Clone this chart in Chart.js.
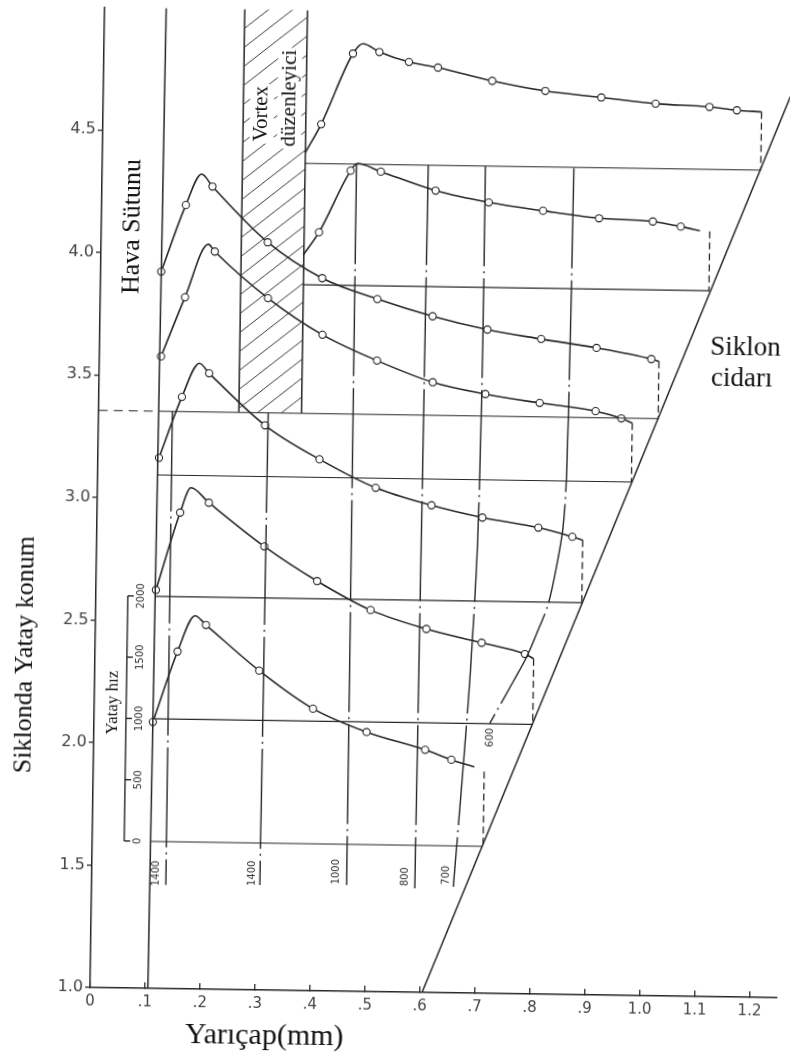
<!DOCTYPE html>
<html>
<head>
<meta charset="utf-8">
<script src="https://cdn.jsdelivr.net/npm/chart.js@4.4.1/dist/chart.umd.min.js"></script>
<style>
html, body { margin: 0; padding: 0; background: #fff; overflow: hidden; }
#wrap { width: 790px; height: 1055px; transform: rotate(0.85deg); transform-origin: 395px 527px; }
</style>
</head>
<body>
<div id="wrap"><canvas id="myChart" width="790" height="1055"></canvas></div>
<script>
// axis ticks
var xTicks = [0, 0.1, 0.2, 0.3, 0.4, 0.5, 0.6, 0.7, 0.8, 0.9, 1.0, 1.1, 1.2];
var xLabels = ['0', '.1', '.2', '.3', '.4', '.5', '.6', '.7', '.8', '.9', '1.0', '1.1', '1.2'];
var yTicks = [1.0, 1.5, 2.0, 2.5, 3.0, 3.5, 4.0, 4.5];

// particle paths: x = radius (mm), y = position, m = 1 where a measured point is drawn
var c1x = [0.107, 0.150, 0.181, 0.201, 0.299, 0.398, 0.496, 0.603, 0.651, 0.693];
var c1y = [2.087, 2.376, 2.523, 2.486, 2.303, 2.151, 2.059, 1.990, 1.951, 1.923];
var c1m = [1, 1, 0, 1, 1, 1, 1, 1, 1, 0];

var c2x = [0.109, 0.151, 0.170, 0.203, 0.305, 0.402, 0.500, 0.602, 0.703, 0.782, 0.798];
var c2y = [2.626, 2.943, 3.045, 2.985, 2.810, 2.672, 2.557, 2.483, 2.430, 2.387, 2.368];
var c2m = [1, 1, 0, 1, 1, 1, 1, 1, 1, 1, 0];

var c3x = [0.111, 0.151, 0.182, 0.200, 0.303, 0.403, 0.506, 0.608, 0.701, 0.803, 0.865, 0.884];
var c3y = [3.165, 3.415, 3.553, 3.513, 3.304, 3.169, 3.056, 2.988, 2.941, 2.903, 2.868, 2.855];
var c3m = [1, 1, 0, 1, 1, 1, 1, 1, 1, 1, 1, 0];

var c4x = [0.112, 0.154, 0.195, 0.207, 0.305, 0.405, 0.505, 0.607, 0.703, 0.802, 0.904, 0.951, 0.971];
var c4y = [3.579, 3.822, 4.039, 4.010, 3.823, 3.677, 3.575, 3.490, 3.445, 3.412, 3.382, 3.354, 3.336];
var c4m = [1, 1, 0, 1, 1, 1, 1, 1, 1, 1, 1, 1, 0];

var c5x = [0.110, 0.153, 0.181, 0.201, 0.303, 0.403, 0.504, 0.605, 0.705, 0.803, 0.904, 1.004, 1.018];
var c5y = [3.925, 4.198, 4.325, 4.275, 4.051, 3.908, 3.826, 3.759, 3.708, 3.673, 3.640, 3.598, 3.589];
var c5m = [1, 1, 0, 1, 1, 1, 1, 1, 1, 1, 1, 1, 0];

var c6x = [0.368, 0.396, 0.452, 0.464, 0.507, 0.607, 0.704, 0.803, 0.905, 1.003, 1.054, 1.089];
var c6y = [4.002, 4.095, 4.348, 4.378, 4.346, 4.272, 4.227, 4.196, 4.169, 4.159, 4.140, 4.124];
var c6m = [0, 1, 1, 0, 1, 1, 1, 1, 1, 1, 1, 0];

var c7x = [0.369, 0.397, 0.453, 0.471, 0.501, 0.555, 0.608, 0.707, 0.804, 0.906, 1.005, 1.103, 1.153, 1.198];
var c7y = [4.419, 4.536, 4.826, 4.867, 4.834, 4.795, 4.774, 4.723, 4.685, 4.662, 4.640, 4.630, 4.618, 4.613];
var c7m = [0, 1, 1, 0, 1, 1, 1, 1, 1, 1, 1, 1, 1, 0];

// base lines (zero speed) and the dashed drops to the wall
var baseY  = [1.6, 2.1, 2.6, 3.095, 3.355, 3.88, 4.375];
var baseX0 = [0.106, 0.107, 0.108, 0.109, 0.110, 0.369, 0.369];
var baseX1 = [0.710, 0.798, 0.886, 0.973, 1.018, 1.108, 1.198];
var dropX   = [0.711, 0.798, 0.884, 0.971, 1.018, 1.107, 1.198];
var dropTop = [1.905, 2.368, 2.855, 3.336, 3.589, 4.122, 4.613];

// dash-dot lines of equal value
var isoText = ['1400', '1400', '1000', '800', '700', '600'];
var iso1x = [0.134, 0.135], iso1y = [3.355, 1.423];
var iso2x = [0.3085, 0.306], iso2y = [3.355, 1.428];
var iso3x = [0.4625, 0.4638], iso3y = [4.375, 1.434];
var iso4x = [0.593, 0.588], iso4y = [4.375, 1.424];
var iso5x = [0.697, 0.697, 0.693, 0.683, 0.670, 0.658];
var iso5y = [4.375, 3.66, 2.85, 2.30, 1.83, 1.433];
var iso6x = [0.858, 0.856, 0.853, 0.848, 0.837, 0.823, 0.8025, 0.785, 0.7625, 0.720];
var iso6y = [4.372, 3.666, 3.122, 2.907, 2.744, 2.592, 2.469, 2.374, 2.278, 2.102];

// cyclone wall, air column, vortex finder
var wallX = [0.604, 1.25], wallY = [1.0, 4.677];
var havaX = [0.105, 0.112], havaY = [1.0, 5.0];
var vortexX = [0.255, 0.369], vortexY = [3.355, 5.0];
var leftDashX = [0, 0.110], leftDashY = [3.355, 3.355];

// small speed scale
var hizX = 0.058;
var hizTicks = [0, 500, 1000, 1500, 2000];

var INK = '#262626';
var SERIF = '"Liberation Serif", "Times New Roman", serif';
var SANS = '"DejaVu Sans", sans-serif';

function pts(xs, ys) {
    return xs.map(function (v, i) { return {x: v, y: ys[i]}; });
}
function curve(xs, ys, ms) {
    return {
        data: pts(xs, ys), borderColor: INK, borderWidth: 1.6,
        cubicInterpolationMode: 'monotone',
        pointRadius: function (c) { return ms[c.dataIndex] ? 3.6 : 0; },
        pointBackgroundColor: '#fff', pointBorderColor: INK, pointBorderWidth: 1.1
    };
}
function seg(xs, ys, w, dash, tension) {
    return {
        data: pts(xs, ys), borderColor: INK, borderWidth: w,
        borderDash: dash || [], pointRadius: 0, tension: tension || 0
    };
}

var datasets = [];
for (var i = 0; i < baseY.length; i++) {
    datasets.push(seg([baseX0[i], baseX1[i]], [baseY[i], baseY[i]], 1.1));
    datasets.push(seg([dropX[i], dropX[i]], [dropTop[i], baseY[i]], 1.3, [7, 4]));
}
datasets.push(seg(leftDashX, leftDashY, 1.1, [9, 6]));
datasets.push(seg(havaX, havaY, 1.5));
datasets.push(seg([vortexX[0], vortexX[0]], vortexY, 1.5));
datasets.push(seg([vortexX[1], vortexX[1]], vortexY, 1.5));
datasets.push(seg(wallX, wallY, 1.5));
var dashDot = [100, 5, 2, 5];
datasets.push(seg(iso1x, iso1y, 1.4, dashDot));
datasets.push(seg(iso2x, iso2y, 1.4, dashDot));
datasets.push(seg(iso3x, iso3y, 1.4, dashDot));
datasets.push(seg(iso4x, iso4y, 1.4, dashDot));
datasets.push(seg(iso5x, iso5y, 1.4, dashDot, 0.3));
datasets.push(seg(iso6x, iso6y, 1.4, dashDot, 0.3));
datasets.push(curve(c1x, c1y, c1m));
datasets.push(curve(c2x, c2y, c2m));
datasets.push(curve(c3x, c3y, c3m));
datasets.push(curve(c4x, c4y, c4m));
datasets.push(curve(c5x, c5y, c5m));
datasets.push(curve(c6x, c6y, c6m));
datasets.push(curve(c7x, c7y, c7m));

// text placed in data units
var isoPos = [[0.118, 1.470], [0.291, 1.476], [0.445, 1.487], [0.570, 1.471], [0.645, 1.480], [0.721, 2.044]];
var notes = [
    {t: 'Hava Sütunu', x: 0.0565, y: 4.107, rot: true, font: '26px ' + SERIF},
    {t: 'Vortex', x: 0.289, y: 4.575, rot: true, font: '21px ' + SERIF, bg: true},
    {t: 'düzenleyici', x: 0.339, y: 4.640, rot: true, font: '21px ' + SERIF, bg: true},
    {t: 'Siklon', x: 1.175, y: 3.647, font: '27px ' + SERIF},
    {t: 'cidarı', x: 1.169, y: 3.521, font: '27px ' + SERIF},
    {t: 'Siklonda Yatay konum', x: -0.127, y: 2.354, rot: true, font: '26px ' + SERIF},
    {t: 'Yarıçap(mm)', x: 0.318, y: 0.810, font: '30px ' + SERIF},
    {t: 'Yatay hız', x: 0.034, y: 2.164, rot: true, font: '17px ' + SERIF}
];

function putText(ctx, t, px, py, rot, bg) {
    ctx.save();
    ctx.translate(px, py);
    if (rot) ctx.rotate(-Math.PI / 2);
    if (bg) {
        var w = ctx.measureText(t).width;
        ctx.fillStyle = '#fff';
        ctx.fillRect(-w / 2 - 2, -12, w + 4, 24);
        ctx.fillStyle = '#111';
    }
    ctx.fillText(t, 0, 0);
    ctx.restore();
}

var overlay = {
    id: 'overlay',
    beforeDatasetsDraw: function (chart) {
        var ctx = chart.ctx, x = chart.scales.x, y = chart.scales.y;
        var x0 = x.getPixelForValue(vortexX[0]), x1 = x.getPixelForValue(vortexX[1]);
        var y0 = y.getPixelForValue(vortexY[1]), y1 = y.getPixelForValue(vortexY[0]);
        var w = x1 - x0;
        ctx.save();
        ctx.beginPath();
        ctx.rect(x0, y0, w, y1 - y0);
        ctx.clip();
        ctx.strokeStyle = '#3a3a3a';
        ctx.lineWidth = 1;
        for (var yy = y0; yy < y1 + w * 0.8; yy += 19) {
            ctx.beginPath();
            ctx.moveTo(x0, yy);
            ctx.lineTo(x1, yy - w * 0.8);
            ctx.stroke();
        }
        ctx.restore();
    },
    afterDatasetsDraw: function (chart) {
        var ctx = chart.ctx, x = chart.scales.x, y = chart.scales.y, yh = chart.scales.yh;
        ctx.save();
        // speed scale
        var px = x.getPixelForValue(hizX);
        ctx.strokeStyle = INK;
        ctx.lineWidth = 1.4;
        ctx.beginPath();
        ctx.moveTo(px, yh.getPixelForValue(hizTicks[0]));
        ctx.lineTo(px, yh.getPixelForValue(hizTicks[hizTicks.length - 1]));
        ctx.stroke();
        ctx.font = '10px ' + SANS;
        ctx.fillStyle = '#333';
        ctx.textAlign = 'center';
        ctx.textBaseline = 'middle';
        hizTicks.forEach(function (v) {
            var py = yh.getPixelForValue(v);
            ctx.beginPath();
            ctx.moveTo(px, py);
            ctx.lineTo(px + 6, py);
            ctx.stroke();
            putText(ctx, String(v), px + 14, py, true);
        });
        // labels of the dash-dot lines
        isoText.forEach(function (t, k) {
            putText(ctx, t, x.getPixelForValue(isoPos[k][0]), y.getPixelForValue(isoPos[k][1]), true);
        });
        // notes
        ctx.fillStyle = '#111';
        notes.forEach(function (n) {
            ctx.font = n.font;
            putText(ctx, n.t, x.getPixelForValue(n.x), y.getPixelForValue(n.y), n.rot, n.bg);
        });
        ctx.restore();
    }
};

var ctx = document.getElementById('myChart');
var myChart = new Chart(ctx, {
    type: 'line',
    data: { datasets: datasets },
    plugins: [overlay],
    options: {
        responsive: false,
        animation: false,
        devicePixelRatio: 1,
        layout: { padding: { left: 0, right: 6, top: 9, bottom: 0 } },
        plugins: { legend: { display: false }, tooltip: { enabled: false } },
        scales: {
            x: {
                type: 'linear', min: 0, max: 1.25,
                afterBuildTicks: function (s) { s.ticks = xTicks.map(function (v) { return {value: v}; }); },
                afterFit: function (s) { s.height = 63; },
                ticks: {
                    padding: 11, color: '#444', autoSkip: false, maxRotation: 0,
                    font: { family: SANS, size: 15 },
                    callback: function (v, i) { return xLabels[i]; }
                },
                grid: { drawOnChartArea: false, tickLength: -6, color: INK, lineWidth: 1.3 },
                border: { color: INK, width: 1.5 }
            },
            y: {
                type: 'linear', min: 1, max: 5,
                afterBuildTicks: function (s) { s.ticks = yTicks.map(function (v) { return {value: v}; }); },
                afterFit: function (s) { s.width = 97; },
                ticks: {
                    padding: 2, color: '#444', autoSkip: false,
                    font: { family: SANS, size: 16 },
                    callback: function (v) { return v.toFixed(1); }
                },
                grid: { drawOnChartArea: false, tickLength: 5, color: INK, lineWidth: 1.3 },
                border: { color: INK, width: 1.5 }
            },
            yh: { type: 'linear', display: false, position: 'left', min: -1200, max: 6800 }
        }
    }
});
</script>
</body>
</html>
